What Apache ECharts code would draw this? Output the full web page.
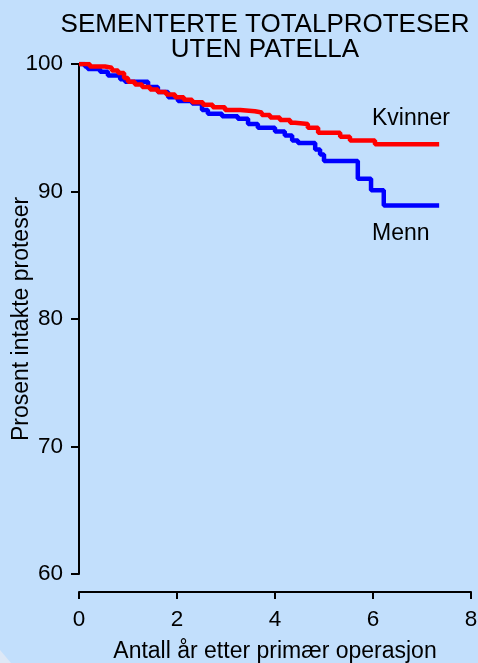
<!DOCTYPE html>
<html>
<head>
<meta charset="utf-8">
<script src="https://cdn.jsdelivr.net/npm/echarts@6/dist/echarts.min.js"></script>
<style>
html,body{margin:0;padding:0;background:#c2dffc;}
#chart{width:478px;height:663px;}
</style>
</head>
<body>
<div id="chart"></div>
<script>
var titleText = 'SEMENTERTE TOTALPROTESER\nUTEN PATELLA';
var xAxisName = 'Antall år etter primær operasjon';
var yAxisName = 'Prosent intakte proteser';

var menYears   = [0, 0.12, 0.18, 0.43, 0.59, 0.84, 0.94, 1.41, 1.61, 1.82, 2.02, 2.31, 2.51, 2.63, 2.92, 3.24, 3.45, 3.65, 4.00, 4.20, 4.35, 4.47, 4.82, 4.92, 5.00, 5.69, 5.96, 6.22, 7.35];
var menValues  = [100, 99.8, 99.6, 99.4, 99.1, 98.8, 98.6, 98.2, 97.8, 97.4, 97.1, 96.9, 96.4, 96.1, 95.9, 95.7, 95.3, 95.0, 94.7, 94.4, 94.0, 93.8, 93.3, 92.9, 92.4, 91.0, 90.1, 88.9, 88.9];

var womenYears  = [0, 0.22, 0.53, 0.67, 0.80, 0.92, 1.00, 1.14, 1.29, 1.45, 1.61, 1.78, 1.96, 2.14, 2.31, 2.53, 2.73, 2.98, 3.29, 3.59, 3.73, 3.90, 4.10, 4.31, 4.41, 4.67, 4.88, 5.33, 5.53, 6.04, 7.35];
var womenValues = [100, 99.8, 99.7, 99.5, 99.3, 98.9, 98.6, 98.4, 98.2, 98.0, 97.8, 97.6, 97.4, 97.2, 97.0, 96.8, 96.6, 96.4, 96.3, 96.2, 96.0, 95.8, 95.6, 95.4, 95.3, 95.0, 94.6, 94.3, 94.0, 93.7, 93.7];

var seriesNames = ['Menn', 'Kvinner'];

function pairs(xs, ys) { return xs.map(function (x, i) { return [x, ys[i]]; }); }

var font = 'Arial, "Liberation Sans", sans-serif';
var chart = echarts.init(document.getElementById('chart'), null, {renderer: 'canvas'});
chart.setOption({
  backgroundColor: '#c2dffc',
  animation: false,
  title: {
    text: titleText,
    left: 260, top: 7, textAlign: 'center',
    textStyle: {fontFamily: font, fontSize: 26, fontWeight: 'normal', color: '#000', lineHeight: 25}
  },
  grid: {left: 79, top: 64, right: 7, bottom: 89, containLabel: false, outerBoundsMode: 'none'},
  xAxis: {
    type: 'value', min: 0, max: 8, interval: 2, offset: 18,
    name: xAxisName, nameLocation: 'middle', nameGap: 48,
    nameTextStyle: {fontFamily: font, fontSize: 23, color: '#000'},
    axisLine: {show: true, lineStyle: {color: '#000', width: 2}},
    axisTick: {show: true, length: 7, lineStyle: {color: '#000', width: 2}},
    axisLabel: {fontFamily: font, fontSize: 22.5, color: '#000', margin: 16},
    splitLine: {show: false}
  },
  yAxis: {
    type: 'value', min: 60, max: 100, interval: 10,
    name: yAxisName, nameLocation: 'middle', nameGap: 46, nameRotate: 90, nameMoveOverlap: false,
    nameTextStyle: {fontFamily: font, fontSize: 23, color: '#000'},
    axisLine: {show: true, lineStyle: {color: '#000', width: 2}},
    axisTick: {show: true, length: 8, lineStyle: {color: '#000', width: 2}},
    axisLabel: {fontFamily: font, fontSize: 22.5, color: '#000', margin: 16},
    splitLine: {show: false}
  },
  series: [
    {name: seriesNames[0], type: 'line', step: 'end', data: pairs(menYears, menValues),
     showSymbol: false, lineStyle: {color: '#0000ff', width: 4.5}, z: 2},
    {name: seriesNames[1], type: 'line', step: 'end', data: pairs(womenYears, womenValues),
     showSymbol: false, lineStyle: {color: '#ff0000', width: 4.5}, z: 3}
  ],
  graphic: [
    {type: 'polygon', shape: {points: [[0, 650], [0, 663], [11, 663]]}, style: {fill: '#dde8f6'}, silent: true},
    {type: 'text', left: 372, top: 107, style: {text: seriesNames[1], font: '23px ' + font, fill: '#000'}},
    {type: 'text', left: 372, top: 222, style: {text: seriesNames[0], font: '23px ' + font, fill: '#000'}}
  ]
});
</script>
</body>
</html>
